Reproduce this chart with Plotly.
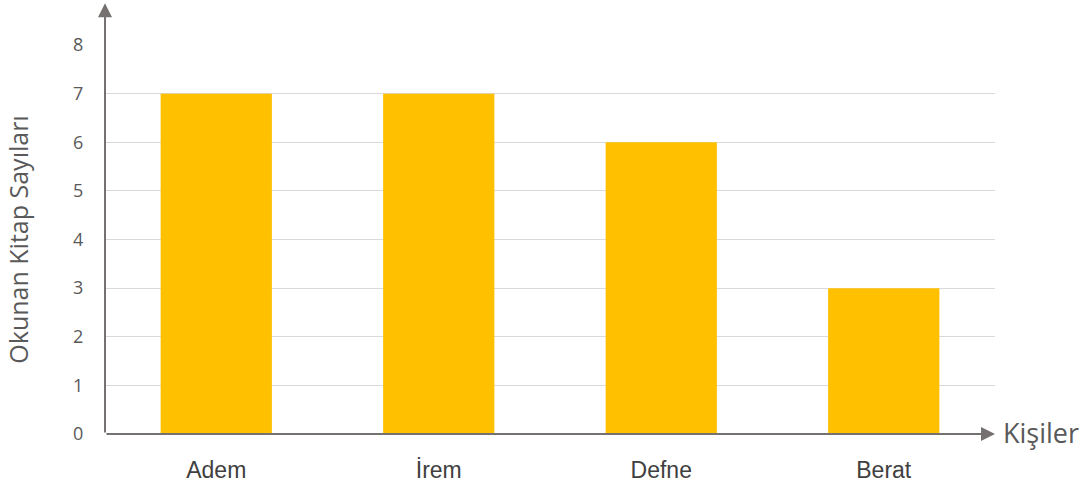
import plotly.graph_objects as go

# veriler
kisiler = ['Adem', 'İrem', 'Defne', 'Berat']
kitap_sayilari = [7, 7, 6, 3]
y_ticks = [0, 1, 2, 3, 4, 5, 6, 7, 8]

BAR = '#FFC000'
AXIS = '#767171'
GRID = '#D9D9D9'
TEXT = '#595959'

fig = go.Figure(go.Bar(
    x=kisiler, y=kitap_sayilari,
    marker=dict(color=BAR, line=dict(width=0)),
    hovertemplate='<b>%{x}</b><br>%{y}<extra></extra>',
))

fig.update_layout(
    width=1081, height=487,
    plot_bgcolor='white', paper_bgcolor='white',
    margin=dict(l=105, r=86, t=45, b=53),
    bargap=0.5, showlegend=False,
    font=dict(family='Open Sans, Arial', color=TEXT),
)

fig.update_xaxes(
    automargin=False, range=[-0.5, 3.5],
    showline=False, showgrid=False, zeroline=False,
    tickfont=dict(family='Liberation Sans, Arial', size=23, color='#404040'),
    ticks='outside', ticklen=15, tickcolor='rgba(0,0,0,0)',
)
fig.update_yaxes(
    automargin=False,
    range=[0, 8], tickvals=y_ticks,
    showline=False, zeroline=False,
    showgrid=True, gridcolor=GRID, gridwidth=1,
    tickfont=dict(family='Open Sans', size=18, color=TEXT),
    ticks='outside', ticklen=17, tickcolor='rgba(0,0,0,0)',
    title=dict(text='Okunan Kitap Sayıları', standoff=37,
               font=dict(family='Open Sans', size=25, color=TEXT)),
)

# eksen okları
fig.add_annotation(
    x=-0.5, y=8.86, ax=-0.5, ay=0, xref='x', yref='y', axref='x', ayref='y',
    text='', showarrow=True, arrowhead=2, arrowsize=1.4, arrowwidth=2, arrowcolor=AXIS,
)
fig.add_annotation(
    x=3.5, y=0, ax=-0.5, ay=0, xref='x', yref='y', axref='x', ayref='y',
    text='', showarrow=True, arrowhead=2, arrowsize=1.4, arrowwidth=2, arrowcolor=AXIS,
)
fig.add_annotation(
    x=1, y=0, xref='paper', yref='y', xanchor='left', yanchor='middle',
    xshift=6, yshift=2, text='Kişiler', showarrow=False,
    font=dict(family='Open Sans', size=27, color=TEXT),
)

fig.write_html('out.html', config={'displayModeBar': False},
               post_script="document.body.style.margin='0';")
